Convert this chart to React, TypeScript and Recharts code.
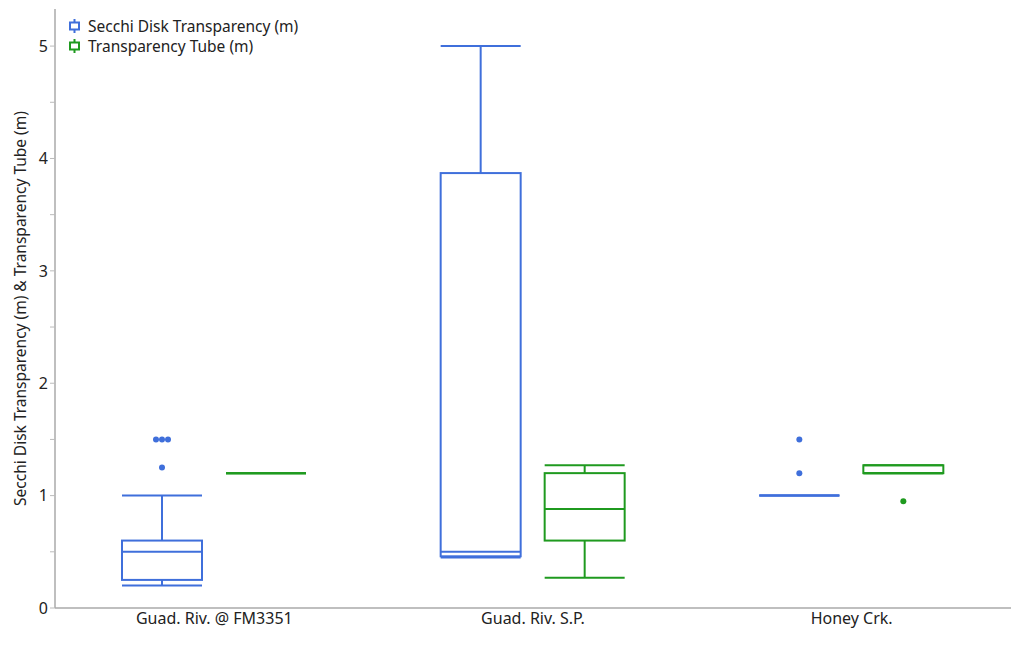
import React from 'react';
import { ComposedChart, Bar, XAxis, YAxis } from 'recharts';

const sites = ['Guad. Riv. @ FM3351', 'Guad. Riv. S.P.', 'Honey Crk.'];

const secchiMin = [0.2, 0.45, 1.0];
const secchiQ1 = [0.25, 0.46, 1.0];
const secchiMedian = [0.5, 0.5, 1.0];
const secchiQ3 = [0.6, 3.87, 1.0];
const secchiMax = [1.0, 5.0, 1.0];
const secchiOutliers = [[1.5, 1.5, 1.5, 1.25], [], [1.5, 1.2]];

const tubeMin = [1.2, 0.27, 1.2];
const tubeQ1 = [1.2, 0.6, 1.2];
const tubeMedian = [1.2, 0.88, 1.2];
const tubeQ3 = [1.2, 1.2, 1.27];
const tubeMax = [1.2, 1.27, 1.27];
const tubeOutliers = [[], [], [0.95]];

const yTicks = [0, 0.5, 1, 1.5, 2, 2.5, 3, 3.5, 4, 4.5, 5];

const BLUE = '#3f6fdb';
const GREEN = '#1f9a1f';
const FONT = '"Noto Sans", "Open Sans", sans-serif';

type Stats = { min: number; q1: number; median: number; q3: number; max: number; outliers: number[] };

const data = sites.map((site, i) => ({
  site,
  secchi: {
    min: secchiMin[i], q1: secchiQ1[i], median: secchiMedian[i], q3: secchiQ3[i], max: secchiMax[i],
    outliers: secchiOutliers[i],
  } as Stats,
  tube: {
    min: tubeMin[i], q1: tubeQ1[i], median: tubeMedian[i], q3: tubeQ3[i], max: tubeMax[i],
    outliers: tubeOutliers[i],
  } as Stats,
}));

const makeBoxShape = (key: 'secchi' | 'tube', color: string) => (props: any) => {
  const { x, y, width, height, payload } = props;
  const s: Stats = payload[key];
  // bar runs from 0 up to s.max, so the linear scale can be recovered from it
  const py = (v: number) => y + height - (v / s.max) * height;
  const cx = x + width / 2;
  const seen: Record<string, number> = {};
  const counts: Record<string, number> = {};
  s.outliers.forEach((v) => { counts[v] = (counts[v] || 0) + 1; });
  return (
    <g>
      <line x1={cx} x2={cx} y1={py(s.max)} y2={py(s.q3)} stroke={color} strokeWidth={2} />
      <line x1={cx} x2={cx} y1={py(s.q1)} y2={py(s.min)} stroke={color} strokeWidth={2} />
      <line x1={x} x2={x + width} y1={py(s.max)} y2={py(s.max)} stroke={color} strokeWidth={2} />
      <line x1={x} x2={x + width} y1={py(s.min)} y2={py(s.min)} stroke={color} strokeWidth={2} />
      <rect x={x} y={py(s.q3)} width={width} height={Math.max(0, py(s.q1) - py(s.q3))} fill="none" stroke={color} strokeWidth={2} />
      <line x1={x} x2={x + width} y1={py(s.median)} y2={py(s.median)} stroke={color} strokeWidth={2} />
      {s.outliers.map((v, i) => {
        const idx = seen[v] || 0;
        seen[v] = idx + 1;
        const off = (idx - (counts[v] - 1) / 2) * 6;
        return <circle key={i} cx={cx + off} cy={py(v)} r={3} fill={color} />;
      })}
    </g>
  );
};

const LegendIcon = ({ color }: { color: string }) => (
  <svg width={13} height={16} style={{ marginRight: 7 }}>
    <line x1={6.5} x2={6.5} y1={1} y2={15} stroke={color} strokeWidth={2} />
    <rect x={2} y={4.5} width={9} height={7} fill="#fff" stroke={color} strokeWidth={2} />
  </svg>
);

const App: React.FC = () => {
  return (
    <div style={{ position: 'absolute', left: 0, top: 0, width: 1011, height: 654, background: '#fff' }}>
      <ComposedChart
        width={1011}
        height={654}
        data={data}
        margin={{ top: 9, right: 0, left: 0, bottom: 0 }}
        barGap={24}
        barSize={80}
      >
        <XAxis
          dataKey="site"
          axisLine={{ stroke: '#aaa', strokeWidth: 1.5 }}
          tickLine={false}
          tickSize={3}
          height={46}
          tick={{ fontSize: 16, fill: '#222', fontFamily: FONT }}
        />
        <XAxis xAxisId="top" orientation="top" dataKey="site" height={0} tick={false} tickLine={false} axisLine={{ stroke: '#aaa', strokeWidth: 1.5 }} />
        <YAxis
          type="number"
          domain={[0, 5.33]}
          ticks={yTicks}
          interval={0}
          width={55}
          axisLine={{ stroke: '#aaa', strokeWidth: 1.5 }}
          tickLine={{ stroke: '#bbb' }}
          tickSize={5}
          tick={{ fontSize: 16, fill: '#222', fontFamily: FONT }}
          tickFormatter={(v: number) => (Number.isInteger(v) ? String(v) : '')}
          label={{
            value: 'Secchi Disk Transparency (m) & Transparency Tube (m)',
            angle: -90,
            position: 'insideLeft',
            offset: 20,
            style: { textAnchor: 'middle', fontSize: 15.5, fill: '#222', fontFamily: FONT },
          }}
        />
        <Bar dataKey={(d: any) => d.secchi.max} name="Secchi Disk Transparency (m)" shape={makeBoxShape('secchi', BLUE)} isAnimationActive={false} />
        <Bar dataKey={(d: any) => d.tube.max} name="Transparency Tube (m)" shape={makeBoxShape('tube', GREEN)} isAnimationActive={false} />
      </ComposedChart>
      <div style={{ position: 'absolute', left: 68, top: 16, fontFamily: FONT, fontSize: 15.5, color: '#222', lineHeight: '20px' }}>
        <div style={{ display: 'flex', alignItems: 'center' }}>
          <LegendIcon color={BLUE} />Secchi Disk Transparency (m)
        </div>
        <div style={{ display: 'flex', alignItems: 'center' }}>
          <LegendIcon color={GREEN} />Transparency Tube (m)
        </div>
      </div>
    </div>
  );
};

export default App;
